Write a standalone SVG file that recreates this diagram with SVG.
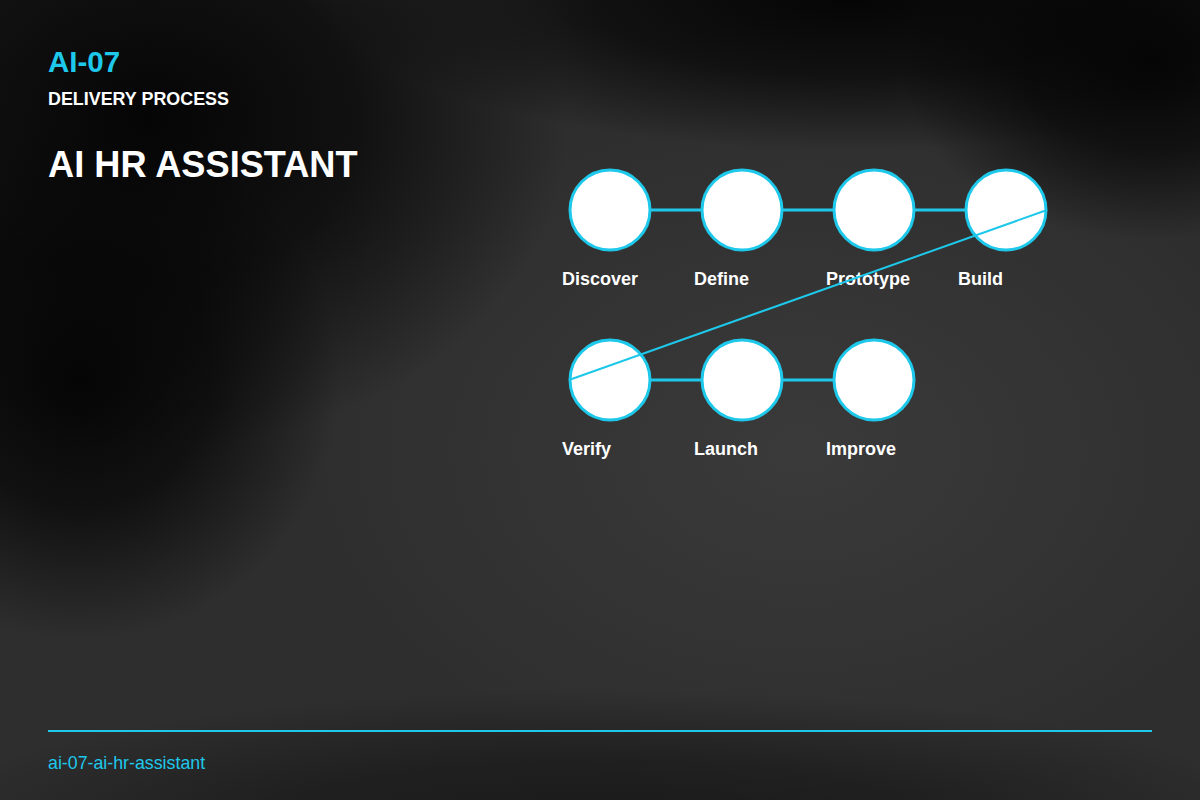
<svg xmlns="http://www.w3.org/2000/svg" width="1200" height="800" viewBox="0 0 1200 800">
<defs>
<radialGradient id="d1" cx="0.5" cy="0.5" r="0.5"><stop offset="0" stop-color="#050505" stop-opacity="1"/><stop offset="0.5" stop-color="#050505" stop-opacity="0.7"/><stop offset="1" stop-color="#050505" stop-opacity="0"/></radialGradient>
<radialGradient id="l1" cx="0.5" cy="0.5" r="0.5"><stop offset="0" stop-color="#3a3a3a" stop-opacity="1"/><stop offset="1" stop-color="#3a3a3a" stop-opacity="0"/></radialGradient>
<style>
.node circle{fill:#ffffff;stroke:#1ec8ea;stroke-width:3}
.lbl{font-family:"Liberation Sans",Arial,sans-serif;font-weight:bold;font-size:18px;fill:#ffffff}
.conn line{stroke:#1ec8ea;stroke-width:3}
</style>
</defs>
<rect width="1200" height="800" fill="#2e2e2e"/>
<ellipse cx="800" cy="450" rx="500" ry="350" fill="url(#l1)"/>
<ellipse cx="150" cy="120" rx="420" ry="330" fill="url(#d1)"/>
<ellipse cx="80" cy="380" rx="260" ry="260" fill="url(#d1)"/>
<ellipse cx="850" cy="0" rx="520" ry="150" fill="url(#d1)"/>
<ellipse cx="1150" cy="60" rx="250" ry="180" fill="url(#d1)"/>
<ellipse cx="600" cy="830" rx="700" ry="140" fill="url(#d1)" opacity="0.5"/>
<text x="48" y="72" font-family="Liberation Sans,Arial,sans-serif" font-weight="bold" font-size="29.5" fill="#1ec8ea">AI-07</text>
<text x="48" y="105" font-family="Liberation Sans,Arial,sans-serif" font-weight="bold" font-size="17.9" fill="#ffffff">DELIVERY PROCESS</text>
<text x="48" y="177" font-family="Liberation Sans,Arial,sans-serif" font-weight="bold" font-size="36.2" fill="#ffffff">AI HR ASSISTANT</text>
<g id="connectors" class="conn">
<line x1="650" y1="210" x2="702" y2="210"/>
<line x1="782" y1="210" x2="834" y2="210"/>
<line x1="914" y1="210" x2="966" y2="210"/>
<line x1="650" y1="380" x2="702" y2="380"/>
<line x1="782" y1="380" x2="834" y2="380"/>
</g>
<g id="n1" class="node"><circle cx="610" cy="210" r="40"/><text class="lbl" x="562" y="285">Discover</text></g>
<g id="n2" class="node"><circle cx="742" cy="210" r="40"/><text class="lbl" x="694" y="285">Define</text></g>
<g id="n3" class="node"><circle cx="874" cy="210" r="40"/><text class="lbl" x="826" y="285">Prototype</text></g>
<g id="n4" class="node"><circle cx="1006" cy="210" r="40"/><text class="lbl" x="958" y="285">Build</text></g>
<g id="n5" class="node"><circle cx="610" cy="380" r="40"/><text class="lbl" x="562" y="455">Verify</text></g>
<g id="n6" class="node"><circle cx="742" cy="380" r="40"/><text class="lbl" x="694" y="455">Launch</text></g>
<g id="n7" class="node"><circle cx="874" cy="380" r="40"/><text class="lbl" x="826" y="455">Improve</text></g>
<g id="connector-diag" class="conn"><line x1="1047" y1="210" x2="569" y2="380" style="stroke-width:2"/></g>
<line x1="48" y1="731" x2="1152" y2="731" stroke="#1ec8ea" stroke-width="2"/>
<text x="48" y="769" font-family="Liberation Sans,Arial,sans-serif" font-size="17.8" fill="#1ec8ea">ai-07-ai-hr-assistant</text>
</svg>
